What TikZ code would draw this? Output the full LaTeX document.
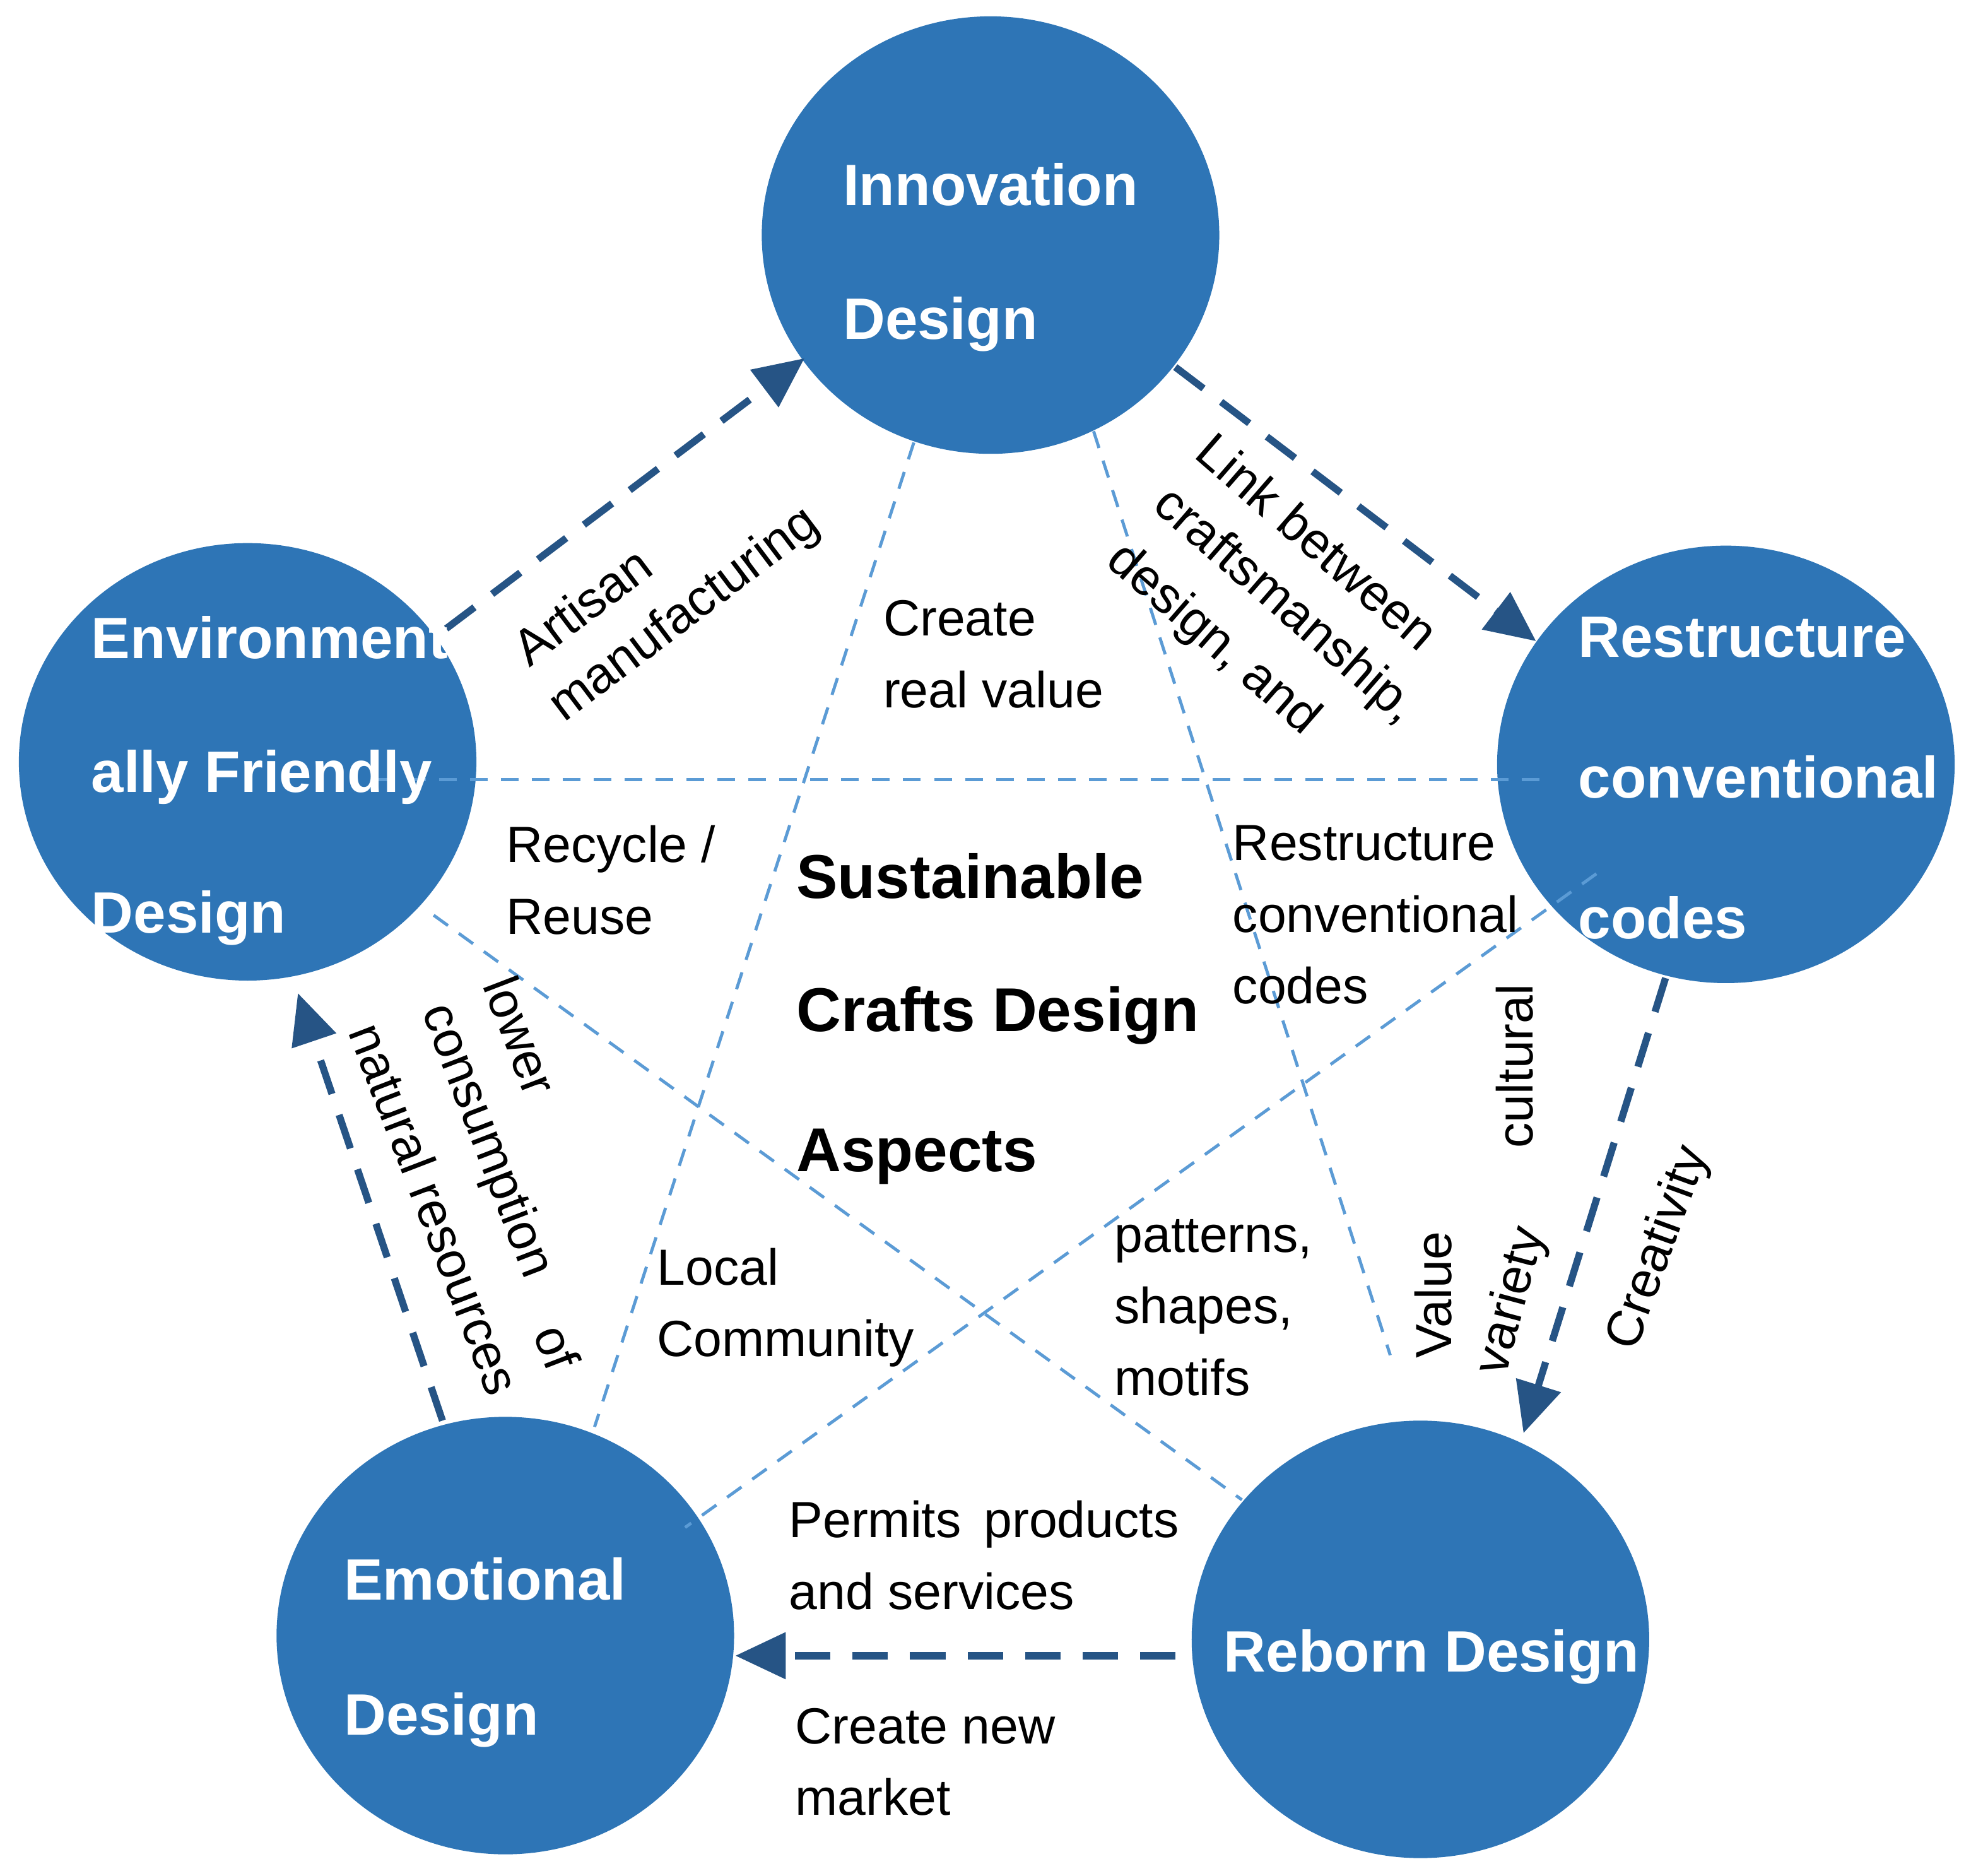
\documentclass[tikz,border=0pt]{standalone}
\usepackage{fontspec}
\setmainfont{Liberation Sans}
\usetikzlibrary{arrows.meta}
\definecolor{cfill}{RGB}{46,117,182}
\definecolor{dark}{RGB}{38,84,133}
\definecolor{light}{RGB}{91,155,213}
\tikzset{
 ctext/.style={anchor=west,text=white,font=\bfseries\fontsize{13.2}{15}\selectfont,inner sep=0},
 lab/.style={align=left,inner sep=0,font=\fontsize{11.5}{16.2}\selectfont},
 rlab/.style={anchor=west,inner sep=0,font=\fontsize{11.5}{16.2}\selectfont},
 cen/.style={anchor=west,inner sep=0,font=\bfseries\fontsize{14}{16}\selectfont},
 star/.style={draw=light,line width=0.7pt,dash pattern=on 4pt off 3pt},
 darr/.style={draw=dark,line width=1.6pt,dash pattern=on 8pt off 5pt,-{Triangle[length=0.4cm,width=0.36cm]}}
}
\begin{document}
\begin{tikzpicture}[x=0.01cm,y=-0.01cm]
\useasboundingbox (0,0) rectangle (1568,1492);
\fill[cfill] (788,187) ellipse [x radius=182,y radius=174];
\fill[cfill] (197,606) ellipse [x radius=182,y radius=174];
\fill[cfill] (1373,608) ellipse [x radius=182,y radius=174];
\fill[cfill] (402,1301) ellipse [x radius=182,y radius=174];
\fill[cfill] (1130,1304) ellipse [x radius=182,y radius=174];
\coordinate (i1) at (727,352); \coordinate (i2) at (870,343);
\coordinate (e1) at (300,620); \coordinate (e2) at (345,728);
\coordinate (r1) at (1230,620); \coordinate (r2) at (1270,695);
\coordinate (m1) at (473,1135); \coordinate (m2) at (545,1215);
\coordinate (b1) at (1106,1078); \coordinate (b2) at (988,1193);
\draw[star] (i1) -- (m1);
\draw[star] (i2) -- (b1);
\draw[star] (e1) -- (r1);
\draw[star] (e2) -- (b2);
\draw[star] (r2) -- (m2);
\coordinate (a1s) at (355,500); \coordinate (a1e) at (640,285);
\coordinate (a2s) at (935,292); \coordinate (a2e) at (1222,510);
\coordinate (a3s) at (1325,778); \coordinate (a3e) at (1212,1140);
\coordinate (a4s) at (935,1317); \coordinate (a4e) at (585,1317);
\coordinate (a5s) at (352,1130); \coordinate (a5e) at (237,790);
\draw[darr] (a1s) -- (a1e);
\draw[darr] (a2s) -- (a2e);
\draw[darr] (a3s) -- (a3e);
\draw[darr] (a4s) -- (a4e);
\draw[darr] (a5s) -- (a5e);
\node[ctext] (t1) at (670,147) {Innovation};
\node[ctext] (t2) at (670,258) {Design};
\node[ctext] (t3) at (72,507) {Environment};
\node[ctext] (t4) at (72,618) {ally Friendly};
\node[ctext] (t5) at (72,730) {Design};
\node[ctext] (t6) at (1255,507) {Restructure};
\node[ctext] (t7) at (1255,618) {conventional};
\node[ctext] (t8) at (1255,730) {codes};
\node[ctext] (t9) at (273,1256) {Emotional};
\node[ctext] (t10) at (273,1368) {Design};
\node[ctext] (t11) at (973,1318) {Reborn Design};
\node[cen] (c1) at (633,697) {Sustainable};
\node[cen] (c2) at (633,808) {Crafts Design};
\node[cen] (c3) at (633,920) {Aspects};
\node[lab,anchor=north west] (l1) at (702,477) {Create\\real value};
\node[lab,anchor=north west] (l2) at (402,656) {Recycle /\\Reuse};
\node[lab,anchor=north west] (l3) at (980,656) {Restructure\\conventional\\codes};
\node[lab,anchor=north west] (l4) at (522,992) {Local\\Community};
\node[lab,anchor=north west] (l5) at (886,969) {patterns,\\shapes,\\motifs};
\node[lab,anchor=north west] (l6) at (627,1193) {Permits\, products\\and services};
\node[lab,anchor=north west] (l7) at (632,1358) {Create new\\market};
\node[rlab,rotate=37] (l8a) at (412,520) {Artisan};
\node[rlab,rotate=37] (l8b) at (442,567) {manufacturing};
\node[rlab,rotate=-41] (l9a) at (958,352) {Link between};
\node[rlab,rotate=-41] (l9b) at (922,396) {craftsmanship,};
\node[rlab,rotate=-41] (l9c) at (885,440) {design, and};
\node[rlab,rotate=-69] (l10a) at (397,778) {lower};
\node[rlab,rotate=-69] (l10b) at (345,800) {consumption};
\node[rlab,rotate=-69] (l10c) at (437,1055) {of};
\node[rlab,rotate=-69] (l10d) at (290,815) {natural resources};
\node[lab,rotate=90] (l11) at (1205,848) {cultural};
\node[lab,rotate=90] (l12) at (1140,1030) {Value};
\node[lab,rotate=75] (l13) at (1203,1035) {variety};
\node[lab,rotate=70] (l14) at (1320,993) {Creativity};
\end{tikzpicture}
\end{document}
